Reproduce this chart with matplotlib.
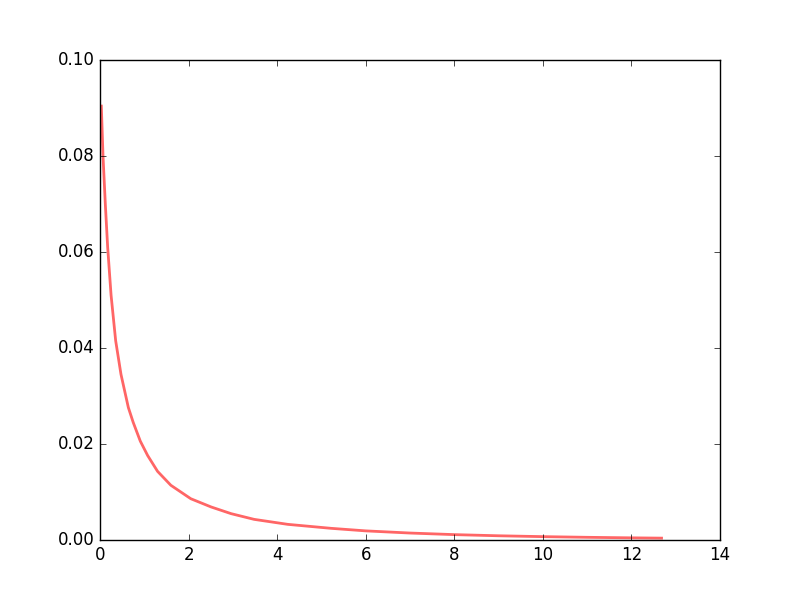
import matplotlib
matplotlib.use("Agg")
import matplotlib.pyplot as plt

# values
x_vals = [0.03, 0.068, 0.12, 0.173, 0.25, 0.354, 0.474, 0.64, 0.75, 0.91,
          1.076, 1.30, 1.60, 2.05, 2.51, 2.96, 3.48, 4.24, 5.22, 6.0, 7.0,
          8.0, 9.0, 10.0, 11.0, 12.0, 12.68]
y_vals = [0.0904, 0.080, 0.070, 0.061, 0.051, 0.0415, 0.0345, 0.0276, 0.0245,
          0.0206, 0.0176, 0.0143, 0.0114, 0.0086, 0.00688, 0.00549, 0.0043,
          0.00326, 0.00243, 0.0019, 0.00145, 0.00112, 0.00088, 0.0007,
          0.00056, 0.00045, 0.00039]

plt.style.use("classic")
fig = plt.figure(figsize=(8, 6), dpi=100, facecolor="white")
ax = fig.add_axes([0.125, 0.1, 0.775, 0.8])

ax.plot(x_vals, y_vals, "r-", lw=2, alpha=0.6)
ax.set_xlim(0, 14)
ax.set_ylim(0, 0.10)

fig.savefig("out.png", dpi=100, facecolor="white")
